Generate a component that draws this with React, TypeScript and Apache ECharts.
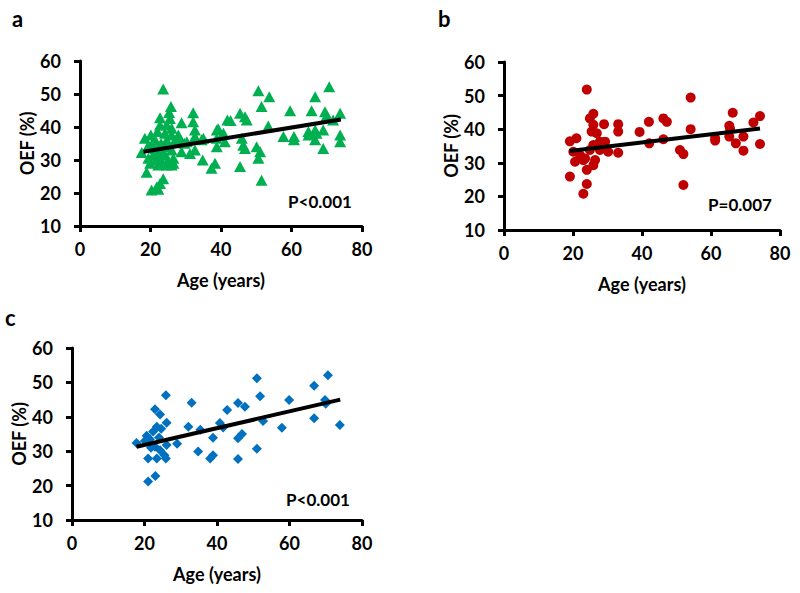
import React, { useEffect, useRef } from "react";
import * as echarts from "echarts";

// Panel a: all subjects (age, OEF %)
const panelA: number[][] = [
  [17.5, 32.3], [18.4, 36.6], [18.9, 26.3], [19.2, 34.0], [19.4, 30.5], [19.9, 29.0],
  [20.1, 37.6], [20.3, 20.9], [20.5, 35.0], [21.0, 32.0], [21.3, 36.1], [21.3, 33.5],
  [21.5, 30.0], [21.7, 31.5], [21.8, 21.9], [22.0, 38.6], [22.0, 33.0], [22.2, 28.5],
  [22.2, 21.1], [22.7, 42.8], [22.7, 40.6], [22.7, 22.9], [23.0, 35.0], [23.0, 30.0],
  [23.0, 29.0], [23.5, 32.5], [23.6, 51.5], [23.6, 24.3], [24.1, 38.1], [24.1, 34.0],
  [24.1, 31.5], [24.6, 40.6], [24.6, 28.5], [24.6, 36.0], [25.0, 30.0], [25.3, 44.4],
  [25.5, 42.6], [25.8, 46.2], [26.0, 39.6], [26.0, 37.6], [26.0, 33.0], [26.0, 28.5],
  [26.5, 30.5], [26.5, 29.0], [26.9, 35.8], [27.9, 37.6], [28.4, 36.1], [28.8, 41.3],
  [28.8, 32.5], [29.6, 35.1], [30.3, 35.5], [31.2, 32.0], [32.1, 44.3], [32.1, 41.6],
  [32.6, 39.1], [32.6, 37.1], [32.6, 33.0], [34.5, 36.1], [34.8, 30.0], [35.0, 36.6],
  [37.3, 27.5], [38.3, 29.0], [38.8, 39.1], [38.8, 36.6], [38.8, 34.0], [39.2, 39.5],
  [40.7, 38.1], [41.1, 35.5], [41.8, 42.1], [42.7, 42.0], [45.4, 44.2], [45.4, 28.0],
  [45.9, 36.6], [46.3, 34.5], [46.8, 43.1], [46.8, 33.5], [47.3, 42.1], [50.1, 34.0],
  [50.6, 51.0], [50.6, 30.5], [51.1, 32.5], [51.5, 46.2], [51.5, 23.9], [53.4, 40.3],
  [53.7, 49.2], [57.7, 37.1], [59.6, 44.9], [60.7, 37.1], [60.7, 36.1], [64.8, 37.6],
  [64.8, 38.6], [65.7, 44.9], [66.7, 49.2], [66.7, 39.1], [66.7, 36.1], [67.1, 38.1],
  [69.0, 39.1], [69.0, 33.5], [69.5, 44.6], [70.0, 43.5], [70.7, 52.2], [71.8, 42.1],
  [73.8, 44.2], [73.8, 37.6], [73.8, 35.5],
];
const fitA: number[][] = [[18, 32.5], [74, 42.3]];

// Panel b
const panelB: number[][] = [
  [19.1, 36.4], [19.1, 25.9], [20.1, 33.3], [20.6, 30.3], [21.0, 37.3], [22.0, 32.3],
  [22.5, 31.5], [23.0, 30.8], [23.0, 20.8], [23.5, 31.3], [24.0, 51.8], [24.0, 27.9],
  [24.0, 23.7], [24.9, 43.2], [24.9, 33.8], [25.4, 39.3], [25.9, 44.6], [25.9, 41.3],
  [25.9, 35.3], [25.9, 29.3], [26.4, 30.8], [26.9, 38.8], [27.8, 36.3], [27.8, 33.8],
  [29.0, 41.5], [29.3, 36.3], [30.2, 33.3], [33.1, 41.5], [33.1, 39.3], [33.1, 33.0],
  [39.3, 39.2], [42.0, 42.2], [42.1, 35.8], [46.2, 43.2], [47.2, 42.2], [46.2, 37.0],
  [51.0, 33.8], [52.0, 32.6], [52.0, 23.4], [54.1, 49.4], [54.1, 40.0], [61.2, 37.3],
  [61.2, 36.6], [65.3, 41.0], [65.5, 40.2], [66.3, 44.9], [65.3, 37.8], [67.2, 35.8],
  [69.4, 37.8], [69.4, 33.6], [72.3, 42.0], [74.2, 43.9], [74.2, 35.6],
];
const fitB: number[][] = [[19, 33.5], [74.2, 40.2]];

// Panel c
const panelC: number[][] = [
  [17.8, 32.4], [20.1, 33.0], [20.6, 34.5], [21.0, 21.2], [21.0, 27.9], [21.5, 33.5],
  [21.8, 31.0], [22.4, 35.7], [22.9, 42.2], [22.9, 31.3], [23.0, 22.8], [23.4, 37.1],
  [23.4, 27.9], [24.0, 34.0], [24.3, 40.7], [24.3, 30.3], [24.6, 36.5], [25.5, 28.8],
  [25.9, 46.3], [26.1, 38.3], [26.1, 31.8], [25.9, 27.9], [29.0, 32.2], [32.1, 37.1],
  [33.0, 44.1], [34.8, 29.9], [35.4, 36.2], [38.1, 27.9], [38.9, 28.8], [38.9, 33.9],
  [40.8, 38.2], [41.7, 36.9], [42.8, 42.0], [45.8, 44.0], [45.8, 33.8], [45.8, 27.7],
  [46.9, 35.0], [47.7, 42.9], [51.0, 30.7], [51.0, 51.2], [51.9, 46.0], [52.7, 38.8],
  [57.9, 36.8], [59.9, 44.9], [66.8, 49.0], [66.8, 39.6], [69.8, 44.9], [70.0, 43.8],
  [70.6, 52.1], [73.9, 37.6],
];
const fitC: number[][] = [[17.8, 31.3], [74, 45.0]];

const pLabels = ["P<0.001", "P=0.007", "P<0.001"];
const panelLetters = ["a", "b", "c"];

const FONT = "Lato, 'Noto Sans', sans-serif";

export default function App() {
  const ref = useRef<HTMLDivElement>(null);
  useEffect(() => {
    if (!ref.current) return;
    const chart = echarts.init(ref.current, null, { renderer: "svg" });
    const grids = [
      { left: 80, top: 61, width: 282, height: 165 },
      { left: 504, top: 62, width: 276, height: 168 },
      { left: 72, top: 348, width: 290, height: 172 },
    ];
    const labelStyle = { color: "#000", fontFamily: FONT, fontWeight: "bold" as const, fontSize: 18 };
    const axisLine = { show: true, lineStyle: { color: "#000", width: 3 } };
    const axisTick = { show: true, length: 6, inside: false, lineStyle: { color: "#000", width: 3 } };
    const xAxes = grids.map((_, i) => ({
      type: "value" as const,
      gridIndex: i,
      min: 0,
      max: 80,
      interval: 20,
      splitLine: { show: false },
      axisLine,
      axisTick,
      axisLabel: { ...labelStyle, margin: 14 },
      name: "Age (years)",
      nameLocation: "middle" as const,
      nameGap: 45,
      nameTextStyle: { ...labelStyle },
    }));
    const yAxes = grids.map((_, i) => ({
      type: "value" as const,
      gridIndex: i,
      min: 10,
      max: 60,
      interval: 10,
      splitLine: { show: false },
      axisLine,
      axisTick,
      axisLabel: { ...labelStyle, margin: 19 },
      name: "OEF (%)",
      nameLocation: "middle" as const,
      nameGap: 42,
      nameRotate: 90,
      nameTextStyle: { ...labelStyle },
    }));
    const scatter = (data: number[][], i: number, symbol: string, size: any, color: string) => ({
      type: "scatter" as const,
      xAxisIndex: i,
      yAxisIndex: i,
      data,
      symbol,
      symbolSize: size,
      itemStyle: { color, opacity: 1 },
      z: 2,
    });
    const fit = (data: number[][], i: number) => ({
      type: "line" as const,
      xAxisIndex: i,
      yAxisIndex: i,
      data,
      showSymbol: false,
      symbol: "none",
      lineStyle: { color: "#000", width: 4 },
      z: 5,
    });
    const letterPos = [
      [12, 7],
      [438, 7],
      [5, 306],
    ];
    const pPos = [
      [320, 201],
      [740, 204],
      [318, 499],
    ];
    chart.setOption({
      animation: false,
      backgroundColor: "#fff",
      grid: grids,
      xAxis: xAxes,
      yAxis: yAxes,
      series: [
        scatter(panelA, 0, "triangle", [12, 11], "#00B050"),
        scatter(panelB, 1, "circle", 10, "#C00000"),
        scatter(panelC, 2, "diamond", 10, "#0070C0"),
        fit(fitA, 0),
        fit(fitB, 1),
        fit(fitC, 2),
      ],
      graphic: [
        ...panelLetters.map((t, i) => ({
          type: "text",
          x: letterPos[i][0],
          y: letterPos[i][1],
          style: { text: t, fill: "#000", font: `bold 22px ${FONT}` },
        })),
        ...pLabels.map((t, i) => ({
          type: "text",
          x: pPos[i][0],
          y: pPos[i][1],
          style: {
            text: t,
            fill: "#000",
            font: `bold 17px ${FONT}`,
            textAlign: "center",
            textVerticalAlign: "middle",
          },
        })),
      ],
    });
    return () => chart.dispose();
  }, []);
  return (
    <div
      ref={ref}
      style={{ position: "fixed", left: 0, top: 0, width: 800, height: 593, background: "#fff" }}
    />
  );
}
